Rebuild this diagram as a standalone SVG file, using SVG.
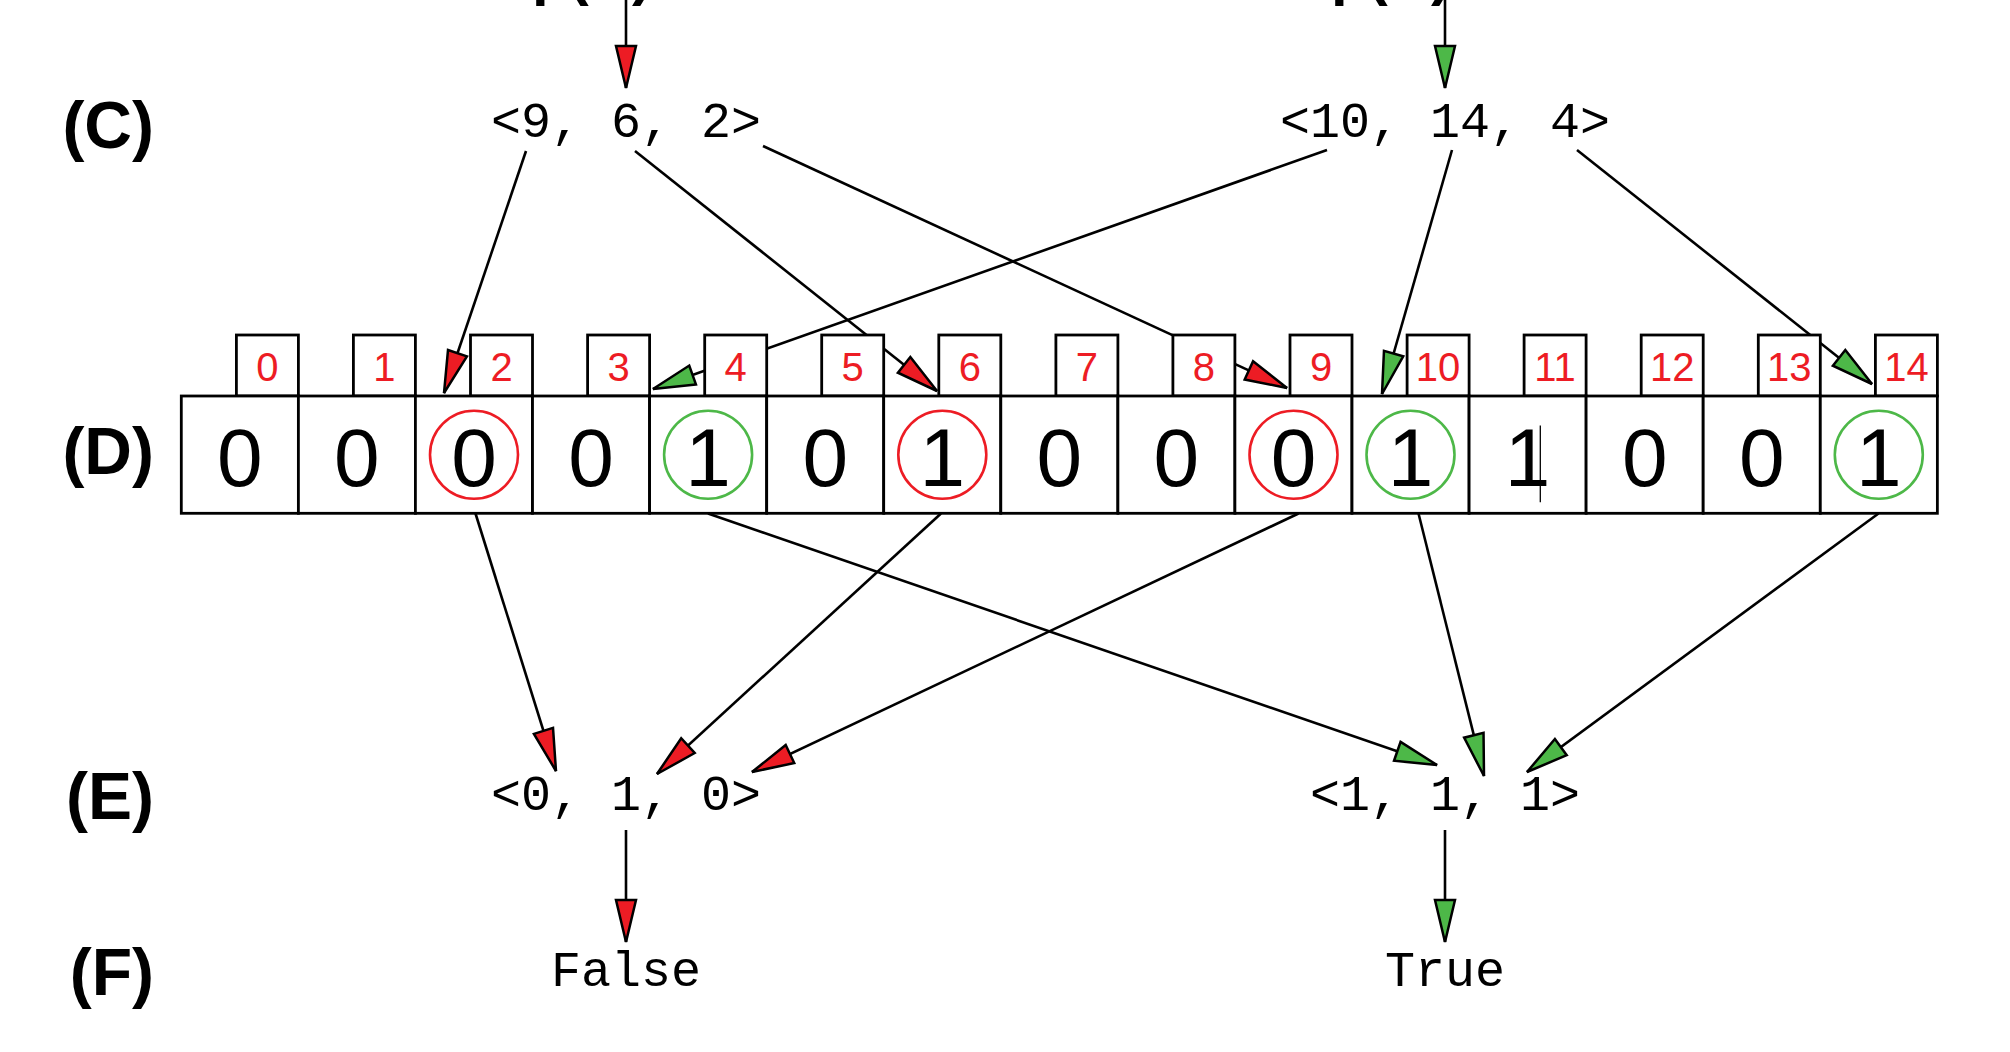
<svg xmlns="http://www.w3.org/2000/svg" width="2010" height="1052" viewBox="0 0 2010 1052">
<defs>
<marker id="ar" markerUnits="userSpaceOnUse" markerWidth="46" markerHeight="24" refX="42" refY="10" orient="auto" overflow="visible">
<path d="M0,0 L42,10 L0,20 Z" fill="#ed1c24" stroke="#000" stroke-width="2.5" stroke-linejoin="miter"/>
</marker>
<marker id="ag" markerUnits="userSpaceOnUse" markerWidth="46" markerHeight="24" refX="42" refY="10" orient="auto" overflow="visible">
<path d="M0,0 L42,10 L0,20 Z" fill="#4db848" stroke="#000" stroke-width="2.5" stroke-linejoin="miter"/>
</marker>
</defs>
<style>
.lbl{font-family:"Liberation Sans",Arial,sans-serif;font-weight:bold;font-size:66px;text-anchor:end;fill:#000}
.top{font-family:"Liberation Sans",Arial,sans-serif;font-weight:bold;font-size:60px;fill:#000}
.tup{font-family:"Liberation Mono","Courier New",monospace;font-size:50px;text-anchor:middle;fill:#000}
.big{font-family:"Liberation Sans",Arial,sans-serif;font-size:82px;text-anchor:middle;fill:#000}
.idx{font-family:"Liberation Sans",Arial,sans-serif;font-size:40px;text-anchor:middle;fill:#ed1c24}
.box{fill:#fff;stroke:#000;stroke-width:2.8}
.cn{stroke:#000;stroke-width:2.6;fill:none}
.cr{fill:none;stroke:#ed1c24;stroke-width:2.6}
.cg{fill:none;stroke:#4db848;stroke-width:2.6}
</style>
<rect width="2010" height="1052" fill="#fff"/>

<g id="labels">
<text class="lbl" x="154" y="148">(C)</text>
<text class="lbl" x="154" y="474">(D)</text>
<text class="lbl" x="154" y="819">(E)</text>
<text class="lbl" x="154" y="995">(F)</text>
</g>

<g id="top-texts">
<text class="top" x="532" y="-6">p(A)</text>
<text class="top" x="1331" y="-6">p(B)</text>
</g>

<g id="connectors">
<line class="cn" x1="626" y1="-5" x2="626" y2="88" marker-end="url(#ar)"/>
<line class="cn" x1="1445" y1="-5" x2="1445" y2="88" marker-end="url(#ag)"/>
<line class="cn" x1="526" y1="151" x2="444" y2="393" marker-end="url(#ar)"/>
<line class="cn" x1="635" y1="151" x2="937" y2="391" marker-end="url(#ar)"/>
<line class="cn" x1="763" y1="146" x2="1287" y2="388" marker-end="url(#ar)"/>
<line class="cn" x1="1327" y1="150" x2="653" y2="389" marker-end="url(#ag)"/>
<line class="cn" x1="1452" y1="150" x2="1382" y2="394" marker-end="url(#ag)"/>
<line class="cn" x1="1577" y1="150" x2="1872" y2="384" marker-end="url(#ag)"/>
<line class="cn" x1="475.5" y1="513.5" x2="556" y2="771" marker-end="url(#ar)"/>
<line class="cn" x1="941" y1="513.5" x2="657" y2="774" marker-end="url(#ar)"/>
<line class="cn" x1="1298.5" y1="513.5" x2="752" y2="772" marker-end="url(#ar)"/>
<line class="cn" x1="708" y1="513.5" x2="1437" y2="765" marker-end="url(#ag)"/>
<line class="cn" x1="1418.5" y1="513.5" x2="1484" y2="776" marker-end="url(#ag)"/>
<line class="cn" x1="1878.5" y1="513.5" x2="1527" y2="772" marker-end="url(#ag)"/>
<line class="cn" x1="626" y1="830" x2="626" y2="942" marker-end="url(#ar)"/>
<line class="cn" x1="1445" y1="830" x2="1445" y2="942" marker-end="url(#ag)"/>
</g>

<g id="tuple-c1"><text class="tup" x="626" y="136.5">&lt;9, 6, 2&gt;</text></g>
<g id="tuple-c2"><text class="tup" x="1445" y="136.5">&lt;10, 14, 4&gt;</text></g>
<g id="tuple-e1"><text class="tup" x="626" y="810">&lt;0, 1, 0&gt;</text></g>
<g id="tuple-e2"><text class="tup" x="1445" y="810">&lt;1, 1, 1&gt;</text></g>
<g id="result-f1"><text class="tup" x="626" y="986">False</text></g>
<g id="result-f2"><text class="tup" x="1445" y="986">True</text></g>

<g id="index-boxes">
<g id="idx0"><rect class="box" x="236.4" y="335" width="62" height="61"/><text class="idx" x="267.4" y="380.5">0</text></g>
<g id="idx1"><rect class="box" x="353.4" y="335" width="62" height="61"/><text class="idx" x="384.4" y="380.5">1</text></g>
<g id="idx2"><rect class="box" x="470.5" y="335" width="62" height="61"/><text class="idx" x="501.5" y="380.5">2</text></g>
<g id="idx3"><rect class="box" x="587.6" y="335" width="62" height="61"/><text class="idx" x="618.6" y="380.5">3</text></g>
<g id="idx4"><rect class="box" x="704.7" y="335" width="62" height="61"/><text class="idx" x="735.7" y="380.5">4</text></g>
<g id="idx5"><rect class="box" x="821.7" y="335" width="62" height="61"/><text class="idx" x="852.7" y="380.5">5</text></g>
<g id="idx6"><rect class="box" x="938.8" y="335" width="62" height="61"/><text class="idx" x="969.8" y="380.5">6</text></g>
<g id="idx7"><rect class="box" x="1055.9" y="335" width="62" height="61"/><text class="idx" x="1086.9" y="380.5">7</text></g>
<g id="idx8"><rect class="box" x="1172.9" y="335" width="62" height="61"/><text class="idx" x="1203.9" y="380.5">8</text></g>
<g id="idx9"><rect class="box" x="1290" y="335" width="62" height="61"/><text class="idx" x="1321" y="380.5">9</text></g>
<g id="idx10"><rect class="box" x="1407.1" y="335" width="62" height="61"/><text class="idx" x="1438.1" y="380.5">10</text></g>
<g id="idx11"><rect class="box" x="1524.1" y="335" width="62" height="61"/><text class="idx" x="1555.1" y="380.5">11</text></g>
<g id="idx12"><rect class="box" x="1641.2" y="335" width="62" height="61"/><text class="idx" x="1672.2" y="380.5">12</text></g>
<g id="idx13"><rect class="box" x="1758.3" y="335" width="62" height="61"/><text class="idx" x="1789.3" y="380.5">13</text></g>
<g id="idx14"><rect class="box" x="1875.4" y="335" width="62" height="61"/><text class="idx" x="1906.4" y="380.5">14</text></g>
</g>

<g id="bit-array">
<g id="cell0"><rect class="box" x="181.3" y="396" width="117.07" height="117.3"/><text class="big" x="239.8" y="485.7">0</text></g>
<g id="cell1"><rect class="box" x="298.4" y="396" width="117.07" height="117.3"/><text class="big" x="356.9" y="485.7">0</text></g>
<g id="cell2"><rect class="box" x="415.4" y="396" width="117.07" height="117.3"/><text class="big" x="474" y="485.7">0</text><circle class="cr" cx="474" cy="454.7" r="44"/></g>
<g id="cell3"><rect class="box" x="532.5" y="396" width="117.07" height="117.3"/><text class="big" x="591" y="485.7">0</text></g>
<g id="cell4"><rect class="box" x="649.6" y="396" width="117.07" height="117.3"/><text class="big" x="708.1" y="485.7">1</text><circle class="cg" cx="708.1" cy="454.7" r="44"/></g>
<g id="cell5"><rect class="box" x="766.7" y="396" width="117.07" height="117.3"/><text class="big" x="825.2" y="485.7">0</text></g>
<g id="cell6"><rect class="box" x="883.7" y="396" width="117.07" height="117.3"/><text class="big" x="942.3" y="485.7">1</text><circle class="cr" cx="942.3" cy="454.7" r="44"/></g>
<g id="cell7"><rect class="box" x="1000.8" y="396" width="117.07" height="117.3"/><text class="big" x="1059.3" y="485.7">0</text></g>
<g id="cell8"><rect class="box" x="1117.9" y="396" width="117.07" height="117.3"/><text class="big" x="1176.4" y="485.7">0</text></g>
<g id="cell9"><rect class="box" x="1234.9" y="396" width="117.07" height="117.3"/><text class="big" x="1293.5" y="485.7">0</text><circle class="cr" cx="1293.5" cy="454.7" r="44"/></g>
<g id="cell10"><rect class="box" x="1352" y="396" width="117.07" height="117.3"/><text class="big" x="1410.5" y="485.7">1</text><circle class="cg" cx="1410.5" cy="454.7" r="44"/></g>
<g id="cell11"><rect class="box" x="1469.1" y="396" width="117.07" height="117.3"/><text class="big" x="1527.6" y="485.7">1</text><line x1="1540.3" y1="425.5" x2="1540.3" y2="502.3" stroke="#000" stroke-width="1.3"/></g>
<g id="cell12"><rect class="box" x="1586.1" y="396" width="117.07" height="117.3"/><text class="big" x="1644.7" y="485.7">0</text></g>
<g id="cell13"><rect class="box" x="1703.2" y="396" width="117.07" height="117.3"/><text class="big" x="1761.8" y="485.7">0</text></g>
<g id="cell14"><rect class="box" x="1820.3" y="396" width="117.07" height="117.3"/><text class="big" x="1878.8" y="485.7">1</text><circle class="cg" cx="1878.8" cy="454.7" r="44"/></g>
</g>
</svg>
